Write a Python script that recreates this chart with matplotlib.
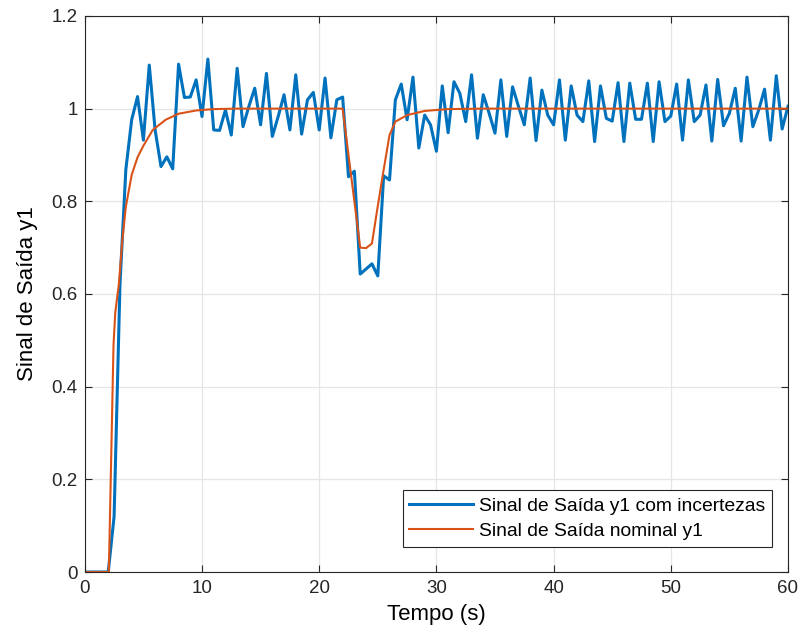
import numpy as np
import matplotlib
matplotlib.use("Agg")
import matplotlib.pyplot as plt

plt.rcParams["font.family"] = ["Liberation Sans", "DejaVu Sans"]

# ---------------------------------------------------------------------------
# Data
# ---------------------------------------------------------------------------

# output with uncertainties, sampled every 0.5 s
t_unc = np.arange(0, 60.5, 0.5)
y_unc = [
    0, 0, 0, 0, 0, 0.12, 0.62, 0.868, 0.976, 1.026,
    0.932, 1.094, 0.954, 0.875, 0.896, 0.870, 1.096, 1.024, 1.025, 1.062,
    0.983, 1.107, 0.954, 0.953, 0.997, 0.943, 1.087, 0.961, 1.005, 1.044,
    0.965, 1.076, 0.940, 0.983, 1.030, 0.954, 1.073, 0.945, 1.019, 1.035,
    0.954, 1.066, 0.937, 1.019, 1.025, 0.853, 0.865, 0.643, 0.654, 0.665,
    0.639, 0.855, 0.846, 1.019, 1.053, 0.976, 1.068, 0.915, 0.986, 0.965,
    0.908, 1.049, 0.948, 1.058, 1.033, 0.972, 1.073, 0.936, 1.030, 0.990,
    0.947, 1.062, 0.940, 1.047, 1.005, 0.965, 1.066, 0.931, 1.040, 0.986,
    0.965, 1.062, 0.932, 1.049, 0.986, 0.972, 1.060, 0.929, 1.049, 0.979,
    0.973, 1.056, 0.929, 1.055, 0.977, 0.977, 1.055, 0.929, 1.058, 0.972,
    0.984, 1.053, 0.932, 1.062, 0.972, 0.986, 1.051, 0.930, 1.063, 0.963,
    0.990, 1.044, 0.930, 1.068, 0.961, 0.997, 1.042, 0.932, 1.071, 0.956,
    1.005,
]

# nominal output
t_nom = [0, 2.05, 2.45, 2.6, 2.9, 3.2, 3.5, 4.0, 4.5, 5.0, 5.8, 6.9, 8.0,
         9.5, 11, 13, 22, 22.5, 23, 23.5, 24, 24.5, 25, 25.5, 26, 26.5,
         27.5, 29, 31, 34, 60]
y_nom = [0, 0, 0.49, 0.56, 0.62, 0.715, 0.788, 0.857, 0.895, 0.92, 0.954,
         0.976, 0.989, 0.996, 0.999, 1.0, 1.0, 0.9, 0.8, 0.70, 0.699, 0.709,
         0.79, 0.868, 0.943, 0.972, 0.986, 0.995, 0.999, 1.0, 1.0]

labels = ["Sinal de Saída y1 com incertezas", "Sinal de Saída nominal y1"]
x_ticks = [0, 10, 20, 30, 40, 50, 60]
y_ticks = [0, 0.2, 0.4, 0.6, 0.8, 1.0, 1.2]
y_tick_labels = ["0", "0.2", "0.4", "0.6", "0.8", "1", "1.2"]

# ---------------------------------------------------------------------------
# Plot
# ---------------------------------------------------------------------------

fig = plt.figure(figsize=(8, 6.43), dpi=100)
ax = fig.add_axes([0.106, 0.1104, 0.879, 0.8648])

ax.plot(t_unc, y_unc, color="#0072BD", linewidth=2.2, label=labels[0])
ax.plot(t_nom, y_nom, color="#D95319", linewidth=1.5, label=labels[1])

ax.set_xlim(0, 60)
ax.set_ylim(0, 1.2)
ax.set_xticks(x_ticks)
ax.set_yticks(y_ticks)
ax.set_yticklabels(y_tick_labels)
ax.grid(True, color="#e6e6e6", linewidth=0.9)
ax.set_axisbelow(True)

for s in ax.spines.values():
    s.set_color("#262626")
    s.set_linewidth(0.8)
ax.tick_params(direction="in", length=5, width=0.8, colors="#262626",
               labelsize=13.5, top=True, right=True, pad=6)
ax.tick_params(axis="y", pad=5)

ax.set_xlabel("Tempo (s)", fontsize=16, labelpad=5)
ax.set_ylabel("Sinal de Saída y1", fontsize=16, labelpad=10)

leg = ax.legend(loc="lower right", bbox_to_anchor=(0.977, 0.045),
                fontsize=13.9, fancybox=False, framealpha=1,
                edgecolor="#262626", handlelength=3.3, handletextpad=0.3,
                borderaxespad=0, borderpad=0.35, labelspacing=0.42)
leg.get_frame().set_linewidth(0.8)

fig.savefig("out.png", dpi=100)
